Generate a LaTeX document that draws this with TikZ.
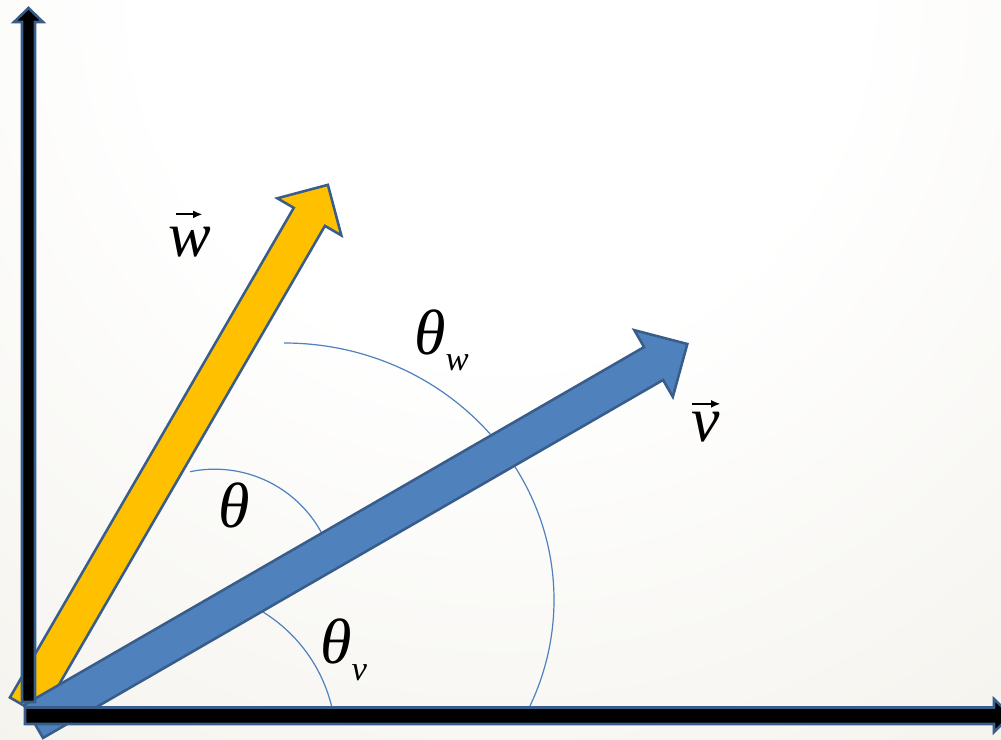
\documentclass[tikz,border=0pt]{standalone}
\usepackage{fontspec}
\setmainfont{Liberation Serif}
\usetikzlibrary{arrows.meta,calc}
\definecolor{ybar}{HTML}{FFC000}
\definecolor{bbar}{HTML}{4F81BD}
\definecolor{edgeblue}{HTML}{385D8A}
\definecolor{arcblue}{HTML}{4F81BD}
\definecolor{bgout}{RGB}{224,220,204}
\pgfdeclareradialshading{bgshade}{\pgfpoint{0bp}{0bp}}{color(0bp)=(white); color(9bp)=(white); color(50bp)=(bgout)}
\begin{document}
\begin{tikzpicture}[x=0.75pt,y=-0.75pt,
  blockarrow/.style={draw=edgeblue, line width=1.9pt, line join=miter},
  anglearc/.style={draw=arcblue, line width=0.9pt},
  biglab/.style={inner sep=0pt, font=\fontsize{48}{48}\selectfont\itshape},
  vecarrow/.style={line width=1.4pt, -{Latex[length=7pt,width=6pt]}}
]
\useasboundingbox (0,0) rectangle (1001,740);
\clip (0,0) rectangle (1001,740);
\shade[shading=bgshade] (-480,-980) rectangle (1480,980);

% angle arcs
\draw[anglearc] (190,471.7) arc[start angle=-101.7, end angle=-28.2, radius=121.6];
\draw[anglearc] (284,343) arc[start angle=-90, end angle=26, x radius=270, y radius=257];
\draw[anglearc] (263,612) arc[start angle=-58.3, end angle=-10, radius=154];

% vector w (yellow)
\begin{scope}[shift={(25.5,706.5)}, rotate=59.9]
\draw[blockarrow, fill=ybar] (0,-18) -- (566,-18) -- (566,-37) -- (603,0) -- (566,37) -- (566,18) -- (0,18) -- cycle;
\end{scope}

% vector v (blue)
\begin{scope}[shift={(33.5,721.5)}, rotate=30]
\draw[blockarrow, fill=bbar] (0,-19) -- (716,-19) -- (716,-38.5) -- (755,0) -- (716,38.5) -- (716,19) -- (0,19) -- cycle;
\end{scope}

% axes
\draw[blockarrow, fill=black] (22,702) -- (22,22) -- (14,22) -- (28.5,8) -- (43,22) -- (35,22) -- (35,702) -- cycle;
\draw[blockarrow, fill=black] (25,707.5) -- (994,707.5) -- (994,699) -- (1011,715.5) -- (994,732) -- (994,724) -- (25,724) -- cycle;

% labels
\node[biglab, anchor=base] (wlab) at (189.5,256) {w};
\draw[vecarrow] ($(wlab.north)+(-14,-12)$) -- ($(wlab.north)+(13,-12)$);
\node[biglab, anchor=base] (vlab) at (706,441.5) {v};
\draw[vecarrow] ($(vlab.north)+(-14.5,-8)$) -- ($(vlab.north)+(14.5,-8)$);

\node[biglab, anchor=base] (th) at (234.2,527) {θ};
\node[biglab, anchor=base west] (thw) at (414,354) {θ\raisebox{-12.4pt}{\fontsize{26}{26}\selectfont w}};
\node[biglab, anchor=base west] (thv) at (320,663) {θ\raisebox{-12.75pt}{\fontsize{26}{26}\selectfont v}};
\end{tikzpicture}
\end{document}
